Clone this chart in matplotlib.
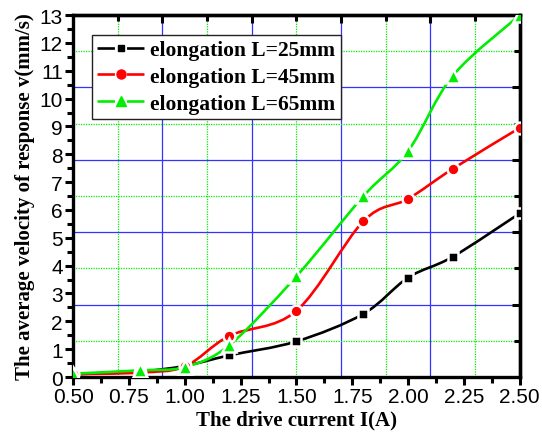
import numpy as np
import matplotlib
matplotlib.use('Agg')
import matplotlib.pyplot as plt
from matplotlib.path import Path
from matplotlib.patches import PathPatch
from matplotlib.lines import Line2D
from matplotlib.ticker import MultipleLocator

# data
current = [0.5, 0.8, 1.0, 1.2, 1.5, 1.8, 2.0, 2.2, 2.5]
v_25mm = [0.10, 0.20, 0.40, 0.78, 1.28, 2.27, 3.57, 4.32, 5.88]
v_45mm = [0.10, 0.16, 0.38, 1.48, 2.38, 5.60, 6.40, 7.48, 8.95]
v_65mm = [0.12, 0.24, 0.36, 1.15, 3.62, 6.50, 8.12, 10.82, 13.0]
labels = ['elongation L=25mm', 'elongation L=45mm', 'elongation L=65mm']

x_ticks = [0.50, 0.75, 1.00, 1.25, 1.50, 1.75, 2.00, 2.25, 2.50]
grid_x_blue = [0.9, 1.3, 1.7, 2.1]
grid_x_green = [0.7, 1.1, 1.5, 1.9, 2.3]
grid_y_blue = [2.6, 5.2, 7.8, 10.4]
grid_y_green = [1.3, 3.9, 6.5, 9.1, 11.7]


def smooth_path(x, y):
    # catmull-rom curve through the points, drawn as cubic beziers
    p = np.column_stack([x, y])
    p = np.vstack([p[0], p, p[-1]])
    verts = [tuple(p[1])]
    codes = [Path.MOVETO]
    for i in range(1, len(p) - 2):
        c1 = p[i] + (p[i + 1] - p[i - 1]) / 6.0
        c2 = p[i + 1] - (p[i + 2] - p[i]) / 6.0
        verts += [tuple(c1), tuple(c2), tuple(p[i + 1])]
        codes += [Path.CURVE4] * 3
    return Path(verts, codes)


plt.rcParams['font.family'] = ['Liberation Sans', 'DejaVu Sans']
serif_bold = dict(family='Liberation Serif', weight='bold')

fig = plt.figure(figsize=(5.42, 4.35), dpi=100)
ax = fig.add_axes([0.135, 0.131, 0.824, 0.832])

for gx in grid_x_blue:
    ax.axvline(gx, color='#3333ff', lw=0.9, zorder=0)
for gx in grid_x_green:
    ax.axvline(gx, color='#00ee00', lw=0.9, ls=(0, (1, 1)), zorder=0)
for gy in grid_y_blue:
    ax.axhline(gy, color='#3333ff', lw=0.9, zorder=0)
for gy in grid_y_green:
    ax.axhline(gy, color='#00ee00', lw=0.9, ls=(0, (1, 1)), zorder=0)

series = [
    (v_25mm, 'black', 's', 7),
    (v_45mm, 'red', 'o', 8.5),
    (v_65mm, '#00ee00', '^', 9.5),
]
handles = []
for (vals, color, mk, ms), lab in zip(series, labels):
    ax.add_patch(PathPatch(smooth_path(current, vals), facecolor='none',
                           edgecolor=color, lw=1.9, zorder=2, clip_on=True))
    ax.plot(current, vals, linestyle='none', marker=mk, markersize=ms,
            color=color, markeredgecolor='white', markeredgewidth=1.8,
            zorder=3, clip_on=True)
    handles.append(Line2D([], [], color=color, lw=1.9,
                          dashes=(6.6, 4.6, 6.6, 100), marker=mk,
                          markersize=ms - 2, markeredgecolor=color,
                          label=lab))

ax.set_xlim(0.5, 2.5)
ax.set_ylim(0, 13)
ax.set_xticks(x_ticks)
ax.set_xticklabels(['%.2f' % t for t in x_ticks])
ax.xaxis.set_minor_locator(MultipleLocator(0.125))
ax.yaxis.set_major_locator(MultipleLocator(1))
ax.yaxis.set_minor_locator(MultipleLocator(0.5))
ax.tick_params(which='major', direction='out', length=6, width=2.2,
               labelsize=15, pad=1.5)
ax.tick_params(which='minor', direction='out', length=4, width=2.2)

for s in ax.spines.values():
    s.set_linewidth(2.4)

top = ax.secondary_xaxis('top')
top.set_xticks(grid_x_blue, labels=[])
top.set_xticks(grid_x_green, minor=True)
top.tick_params(which='major', direction='in', length=6, width=2.2)
top.tick_params(which='minor', direction='in', length=4, width=2.2)
top.spines['top'].set_linewidth(2.4)

right = ax.secondary_yaxis('right')
right.set_yticks(grid_y_blue, labels=[])
right.set_yticks(grid_y_green, minor=True)
right.tick_params(which='major', direction='in', length=6, width=2.2)
right.tick_params(which='minor', direction='in', length=4, width=2.2)
right.spines['right'].set_linewidth(2.4)

ax.set_xlabel('The drive current I(A)', fontsize=15, labelpad=2, **serif_bold)
ax.set_ylabel('The average velocity of response v(mm/s)', fontsize=15,
              labelpad=3, **serif_bold)

leg = ax.legend(handles=handles, loc='upper left',
                bbox_to_anchor=(0.042, 0.945), fancybox=False, framealpha=1,
                edgecolor='#222222', handlelength=2.2, borderpad=0.25,
                borderaxespad=0, labelspacing=0.3, handletextpad=0.25,
                prop=dict(family='Liberation Serif', weight='bold', size=15.5))
leg.get_frame().set_linewidth(1.0)

fig.savefig('out.png', dpi=100)
